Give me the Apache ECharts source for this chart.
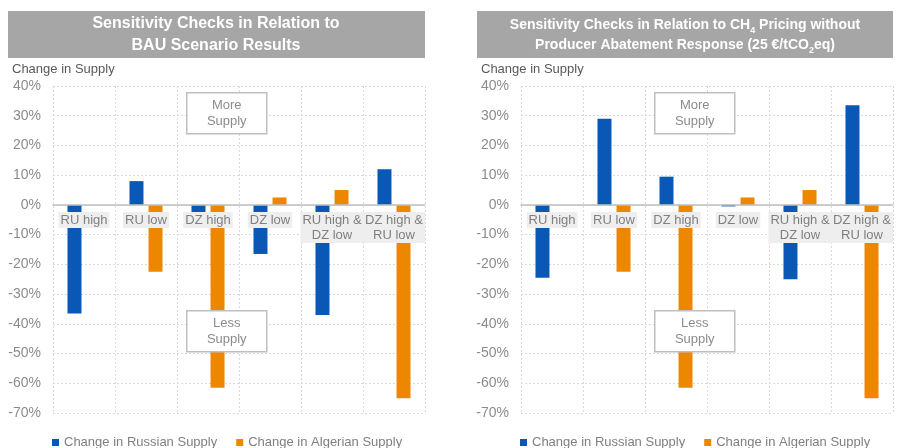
<!DOCTYPE html>
<html>
<head>
<meta charset="utf-8">
<script src="https://cdn.jsdelivr.net/npm/echarts@6/dist/echarts.min.js"></script>
<style>
  html, body { margin: 0; padding: 0; background: #fff; }
  #chart { width: 899px; height: 448px; }
</style>
</head>
<body>
<div id="chart"></div>
<script>
// categories and values (in %)
var categories = ['RU high', 'RU low', 'DZ high', 'DZ low', 'RU high &\nDZ low', 'DZ high &\nRU low'];
var bauRussian = [-36.5, 8, -7.7, -16.5, -37, 12];
var bauAlgerian = [0, -22.5, -61.5, 2.5, 5, -65];
var ch4Russian = [-24.5, 29, 9.5, -0.5, -25, 33.5];
var ch4Algerian = [0, -22.5, -61.5, 2.5, 5, -65];
var seriesNames = ['Change in Russian Supply', 'Change in Algerian Supply'];
var yMin = -70, yMax = 40, yStep = 10;

var blue = '#0a58b5', orange = '#ee8700';
var font = 'Liberation Sans, Arial, sans-serif';

var gridTop = 86, gridBottom = 35, gridHeight = 448 - gridTop - gridBottom;
// shift the category axis up to the zero line
var zeroOffset = -Math.round(gridHeight * (0 - yMin) / (yMax - yMin));

var chart = echarts.init(document.getElementById('chart'));

function xAxisFor(idx) {
  return {
    type: 'category',
    gridIndex: idx,
    data: categories,
    z: 5,
    offset: zeroOffset,
    axisLine: { onZero: false, lineStyle: { color: '#bfbfbf', width: 1.5 } },
    axisTick: { show: false },
    splitLine: { show: true, lineStyle: { color: '#d9d9d9', type: [2, 2] } },
    axisLabel: {
      color: '#808080', fontSize: 13, fontFamily: font,
      margin: 7, lineHeight: 15,
      backgroundColor: '#eeeeee', padding: [1, 2, 0, 2],
      interval: 0
    }
  };
}

function yAxisFor(idx) {
  return {
    type: 'value',
    gridIndex: idx,
    min: yMin, max: yMax, interval: yStep,
    axisLine: { show: false },
    axisTick: { show: false },
    splitLine: { show: true, lineStyle: { color: '#d9d9d9', type: [2, 2] } },
    axisLabel: {
      color: '#8c8c8c', fontSize: 14, fontFamily: font, margin: 12,
      formatter: '{value}%'
    }
  };
}

function barSeries(name, data, idx, color) {
  return {
    name: name, type: 'bar', xAxisIndex: idx, yAxisIndex: idx,
    data: data, barWidth: 14, barGap: '36%',
    itemStyle: { color: color }
  };
}

// boxed note ("More Supply" / "Less Supply")
function noteBox(x, y, txt) {
  return {
    type: 'group', left: x, top: y,
    children: [
      { type: 'rect', z: 100, shape: { x: 0, y: 0, width: 80, height: 41 },
        style: { fill: '#fff', stroke: '#bfbfbf', lineWidth: 1.5 } },
      { type: 'text', z: 101, x: 40, y: 21,
        style: { text: txt, fill: '#8c8c8c', font: '13px ' + font,
                 align: 'center', verticalAlign: 'middle', lineHeight: 16 } }
    ]
  };
}

function legendFor(x) {
  return {
    left: x, top: 434, padding: 2, data: seriesNames, icon: 'rect',
    itemWidth: 7, itemHeight: 7, itemGap: 19,
    textStyle: { color: '#7f7f7f', fontSize: 13, fontFamily: font }
  };
}

var option = {
  animation: false,
  grid: [
    { left: 53, right: 474, top: gridTop, bottom: gridBottom },
    { left: 521, right: 6, top: gridTop, bottom: gridBottom }
  ],
  xAxis: [xAxisFor(0), xAxisFor(1)],
  yAxis: [yAxisFor(0), yAxisFor(1)],
  legend: [legendFor(50), legendFor(518)],
  series: [
    barSeries(seriesNames[0], bauRussian, 0, blue),
    barSeries(seriesNames[1], bauAlgerian, 0, orange),
    barSeries(seriesNames[0], ch4Russian, 1, blue),
    barSeries(seriesNames[1], ch4Algerian, 1, orange)
  ],
  graphic: [
    // title bars
    { type: 'rect', left: 8, top: 11, shape: { width: 417, height: 47 },
      style: { fill: '#a6a6a6' } },
    { type: 'text', x: 216, y: 35,
      style: { text: 'Sensitivity Checks in Relation to\nBAU Scenario Results',
               fill: '#fff', font: 'bold 16px ' + font, align: 'center',
               verticalAlign: 'middle', lineHeight: 22 } },
    { type: 'rect', left: 477, top: 11, shape: { width: 416, height: 47 },
      style: { fill: '#a6a6a6' } },
    { type: 'text', x: 685, y: 35,
      style: {
        text: '{a|Sensitivity Checks in Relation to CH}{s|4}{a| Pricing without}\n' +
              '{a|Producer Abatement Response (25 €/tCO}{s|2}{a|eq)}',
        align: 'center', verticalAlign: 'middle',
        rich: {
          a: { fill: '#fff', font: 'bold 14px ' + font, lineHeight: 20 },
          s: { fill: '#fff', font: 'bold 9px ' + font, lineHeight: 20, verticalAlign: 'bottom' }
        }
      } },
    // axis captions
    { type: 'text', x: 12, y: 69,
      style: { text: 'Change in Supply', fill: '#595959', font: '13px ' + font,
               verticalAlign: 'middle' } },
    { type: 'text', x: 481, y: 69,
      style: { text: 'Change in Supply', fill: '#595959', font: '13px ' + font,
               verticalAlign: 'middle' } },
    noteBox(186, 92, 'More\nSupply'),
    noteBox(186, 310, 'Less\nSupply'),
    noteBox(654, 92, 'More\nSupply'),
    noteBox(654, 310, 'Less\nSupply')
  ]
};

chart.setOption(option);
</script>
</body>
</html>
